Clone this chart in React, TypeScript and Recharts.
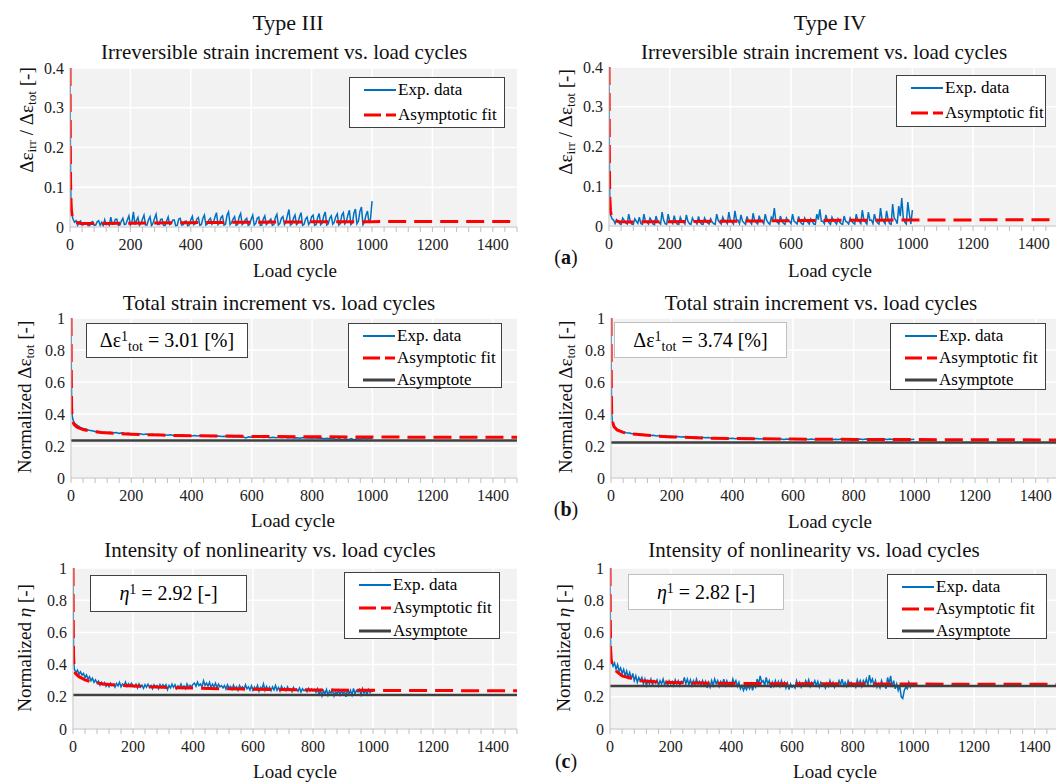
import React from "react";
import { LineChart, Line, XAxis, YAxis, CartesianGrid } from "recharts";

const FONT = "'Liberation Serif', 'Times New Roman', serif";

// load cycles of the measured series
const cycles5 = [0, 1, 2, 3, 4, ...Array.from({ length: 200 }, (_, i) => (i + 1) * 5)];
const cycles10 = [0, 1, 2, 3, 4, 6, 8, ...Array.from({ length: 100 }, (_, i) => (i + 1) * 10)];

// (a) irreversible / total strain increment (every 5th cycle)
const irrTypeIII = [
  0.4, 0.25, 0.12, 0.07, 0.05,
  0.035, 0.02, 0.012, 0.016, 0.004, 0.012, 0.015, 0.005, 0.006, 0.011, 0.01, 0.003, 0.003, 0.012, 0.014, 0.004, 0.005, 0.013, 0.016, 0.004,
  0.012, 0.003, 0.018, 0.006, 0.01, 0.004, 0.025, 0.007, 0.008, 0.019, 0.02, 0.004, 0.005, 0.015, 0.022, 0.006, 0.007, 0.018, 0.028, 0.005,
  0.012, 0.038, 0.006, 0.016, 0.024, 0.004, 0.009, 0.02, 0.03, 0.005, 0.005, 0.018, 0.026, 0.003, 0.01, 0.022, 0.032, 0.006, 0.006, 0.019,
  0.02, 0.004, 0.004, 0.015, 0.025, 0.006, 0.008, 0.017, 0.018, 0.003, 0.004, 0.02, 0.022, 0.005, 0.006, 0.014, 0.015, 0.003, 0.005, 0.018,
  0.027, 0.006, 0.009, 0.02, 0.024, 0.004, 0.006, 0.022, 0.03, 0.005, 0.008, 0.018, 0.022, 0.007, 0.012, 0.025, 0.036, 0.006, 0.01, 0.024,
  0.028, 0.005, 0.007, 0.03, 0.038, 0.006, 0.011, 0.02, 0.026, 0.004, 0.006, 0.025, 0.034, 0.006, 0.01, 0.018, 0.022, 0.004, 0.007, 0.02,
  0.03, 0.005, 0.009, 0.022, 0.025, 0.004, 0.005, 0.02, 0.028, 0.006, 0.01, 0.016, 0.02, 0.004, 0.006, 0.024, 0.032, 0.005, 0.009, 0.022,
  0.026, 0.006, 0.012, 0.03, 0.044, 0.005, 0.008, 0.022, 0.03, 0.006, 0.01, 0.026, 0.036, 0.004, 0.007, 0.02, 0.025, 0.006, 0.012, 0.026,
  0.03, 0.004, 0.006, 0.024, 0.034, 0.006, 0.01, 0.028, 0.038, 0.005, 0.008, 0.022, 0.028, 0.007, 0.012, 0.026, 0.033, 0.005, 0.009, 0.03,
  0.036, 0.008, 0.014, 0.03, 0.042, 0.006, 0.01, 0.035, 0.045, 0.008, 0.015, 0.04, 0.05, 0.006, 0.012, 0.03, 0.04, 0.01, 0.02, 0.065,
];
const irrTypeIV = [
  0.4, 0.22, 0.1, 0.06, 0.04,
  0.028, 0.018, 0.015, 0.006, 0.016, 0.012, 0.006, 0.004, 0.02, 0.014, 0.008, 0.005, 0.03, 0.012, 0.005, 0.004, 0.018, 0.012, 0.007, 0.022,
  0.006, 0.004, 0.03, 0.012, 0.01, 0.005, 0.02, 0.014, 0.005, 0.003, 0.025, 0.012, 0.009, 0.005, 0.035, 0.015, 0.006, 0.004, 0.03, 0.012,
  0.012, 0.006, 0.026, 0.011, 0.005, 0.004, 0.022, 0.013, 0.01, 0.005, 0.028, 0.012, 0.006, 0.004, 0.02, 0.012, 0.011, 0.005, 0.024, 0.01,
  0.005, 0.004, 0.02, 0.012, 0.008, 0.005, 0.018, 0.01, 0.006, 0.004, 0.03, 0.014, 0.009, 0.005, 0.022, 0.013, 0.012, 0.006, 0.035, 0.014,
  0.01, 0.005, 0.038, 0.016, 0.015, 0.006, 0.028, 0.012, 0.008, 0.004, 0.024, 0.012, 0.011, 0.005, 0.032, 0.014, 0.009, 0.005, 0.026, 0.012,
  0.012, 0.006, 0.03, 0.014, 0.008, 0.004, 0.022, 0.016, 0.045, 0.012, 0.01, 0.005, 0.025, 0.012, 0.007, 0.004, 0.02, 0.012, 0.012, 0.006,
  0.03, 0.012, 0.009, 0.005, 0.024, 0.011, 0.006, 0.004, 0.02, 0.012, 0.01, 0.005, 0.018, 0.011, 0.005, 0.004, 0.03, 0.016, 0.042, 0.012,
  0.012, 0.006, 0.028, 0.014, 0.008, 0.004, 0.022, 0.013, 0.01, 0.005, 0.018, 0.01, 0.006, 0.004, 0.025, 0.012, 0.01, 0.005, 0.02, 0.012,
  0.008, 0.005, 0.03, 0.014, 0.012, 0.006, 0.04, 0.016, 0.01, 0.005, 0.035, 0.014, 0.015, 0.006, 0.03, 0.014, 0.008, 0.005, 0.045, 0.016,
  0.012, 0.006, 0.038, 0.016, 0.006, 0.004, 0.055, 0.02, 0.015, 0.006, 0.05, 0.025, 0.07, 0.02, 0.01, 0.005, 0.06, 0.03, 0.005, 0.04,
];
const fitIrrCycles = [0, 1, 2, 3, 5, 8, 12, 20, 35, 60, 100, 200, 400, 600, 800, 1000, 1500];
const fitIrrTypeIII = [0.4, 0.2, 0.11, 0.07, 0.04, 0.025, 0.017, 0.012, 0.009, 0.0085, 0.009, 0.0095, 0.011, 0.012, 0.013, 0.0135, 0.014];
const fitIrrTypeIV = [0.4, 0.19, 0.1, 0.065, 0.038, 0.024, 0.017, 0.013, 0.011, 0.01, 0.0105, 0.011, 0.012, 0.0135, 0.0145, 0.015, 0.016];

// (b) normalized total strain increment (every 10th cycle)
const totTypeIII = [
  1.0, 0.7, 0.5, 0.42, 0.39, 0.37, 0.355,
  0.345, 0.33, 0.318, 0.31, 0.305, 0.298, 0.295, 0.291, 0.29, 0.287,
  0.285, 0.283, 0.286, 0.281, 0.284, 0.279, 0.282, 0.277, 0.279, 0.276,
  0.277, 0.274, 0.276, 0.272, 0.275, 0.271, 0.273, 0.27, 0.272, 0.269,
  0.271, 0.267, 0.27, 0.266, 0.268, 0.265, 0.268, 0.264, 0.266, 0.263,
  0.265, 0.262, 0.265, 0.261, 0.264, 0.26, 0.263, 0.259, 0.262, 0.259,
  0.261, 0.258, 0.26, 0.257, 0.259, 0.256, 0.258, 0.25, 0.257, 0.255,
  0.257, 0.254, 0.256, 0.253, 0.256, 0.252, 0.255, 0.252, 0.254, 0.251,
  0.254, 0.25, 0.253, 0.25, 0.252, 0.249, 0.253, 0.25, 0.252, 0.249,
  0.251, 0.248, 0.25, 0.246, 0.249, 0.245, 0.248, 0.24, 0.246, 0.238,
  0.245, 0.24, 0.247, 0.238, 0.246, 0.242, 0.248, 0.244, 0.249, 0.246,
];
const totTypeIV = [
  1.0, 0.6, 0.45, 0.39, 0.36, 0.34, 0.33,
  0.325, 0.305, 0.295, 0.288, 0.283, 0.281, 0.276, 0.277, 0.272, 0.273,
  0.269, 0.27, 0.266, 0.267, 0.263, 0.265, 0.262, 0.263, 0.26, 0.261,
  0.258, 0.26, 0.256, 0.258, 0.255, 0.257, 0.253, 0.256, 0.252, 0.254,
  0.252, 0.253, 0.25, 0.252, 0.249, 0.251, 0.248, 0.25, 0.247, 0.249,
  0.246, 0.249, 0.245, 0.248, 0.244, 0.247, 0.245, 0.247, 0.244, 0.246,
  0.243, 0.246, 0.242, 0.245, 0.243, 0.244, 0.241, 0.244, 0.242, 0.243,
  0.241, 0.244, 0.242, 0.243, 0.24, 0.243, 0.241, 0.242, 0.24, 0.243,
  0.241, 0.243, 0.24, 0.242, 0.241, 0.244, 0.24, 0.243, 0.241, 0.242,
  0.24, 0.243, 0.241, 0.244, 0.24, 0.242, 0.241, 0.244, 0.24, 0.243,
  0.241, 0.244, 0.24, 0.243, 0.241, 0.242, 0.24, 0.243, 0.241, 0.242,
];
const fitTotCycles = [0, 1, 2, 3, 5, 10, 20, 40, 70, 100, 150, 200, 300, 400, 500, 600, 800, 1000, 1200, 1500];
const fitTotTypeIII = [1, 0.6, 0.45, 0.4, 0.36, 0.335, 0.318, 0.303, 0.292, 0.285, 0.279, 0.274, 0.268, 0.264, 0.262, 0.26, 0.258, 0.256, 0.255, 0.254];
const fitTotTypeIV = [1, 0.55, 0.43, 0.38, 0.35, 0.32, 0.3, 0.285, 0.275, 0.27, 0.262, 0.257, 0.25, 0.247, 0.245, 0.243, 0.241, 0.24, 0.239, 0.238];
const asymTotTypeIII = 0.234;
const asymTotTypeIV = 0.222;

// (c) normalized intensity of nonlinearity (every 5th cycle)
const etaTypeIII = [
  1.0, 0.65, 0.48, 0.41, 0.38,
  0.37, 0.35, 0.365, 0.34, 0.355, 0.335, 0.345, 0.32, 0.335, 0.31, 0.325, 0.3, 0.315, 0.29, 0.305, 0.285, 0.298, 0.272, 0.29, 0.275,
  0.288, 0.265, 0.28, 0.262, 0.285, 0.27, 0.278, 0.26, 0.283, 0.268, 0.29, 0.262, 0.28, 0.27, 0.292, 0.265, 0.282, 0.268, 0.285, 0.27,
  0.262, 0.278, 0.255, 0.28, 0.26, 0.272, 0.252, 0.275, 0.26, 0.278, 0.258, 0.27, 0.25, 0.275, 0.262, 0.27, 0.25, 0.276, 0.258, 0.275,
  0.262, 0.275, 0.245, 0.27, 0.255, 0.278, 0.258, 0.275, 0.25, 0.268, 0.258, 0.28, 0.255, 0.268, 0.25, 0.28, 0.258, 0.272, 0.26, 0.278,
  0.285, 0.265, 0.292, 0.27, 0.28, 0.262, 0.3, 0.27, 0.285, 0.266, 0.29, 0.258, 0.278, 0.262, 0.285, 0.255, 0.278, 0.262, 0.27, 0.255,
  0.27, 0.248, 0.275, 0.255, 0.265, 0.245, 0.272, 0.25, 0.262, 0.24, 0.27, 0.252, 0.262, 0.245, 0.275, 0.25, 0.262, 0.242, 0.268, 0.24,
  0.26, 0.245, 0.27, 0.235, 0.258, 0.248, 0.28, 0.24, 0.265, 0.245, 0.26, 0.238, 0.262, 0.242, 0.27, 0.24, 0.258, 0.236, 0.265, 0.245,
  0.255, 0.238, 0.262, 0.242, 0.25, 0.232, 0.258, 0.24, 0.248, 0.235, 0.255, 0.23, 0.25, 0.238, 0.245, 0.232, 0.252, 0.235, 0.248, 0.236,
  0.245, 0.228, 0.25, 0.215, 0.24, 0.205, 0.238, 0.22, 0.245, 0.21, 0.236, 0.222, 0.242, 0.205, 0.232, 0.218, 0.24, 0.212, 0.238, 0.22,
  0.235, 0.2, 0.248, 0.215, 0.24, 0.21, 0.252, 0.22, 0.24, 0.23, 0.245, 0.212, 0.25, 0.222, 0.238, 0.215, 0.245, 0.225, 0.24, 0.23,
];
const etaTypeIV = [
  1.0, 0.7, 0.52, 0.46, 0.44,
  0.42, 0.39, 0.41, 0.37, 0.4, 0.36, 0.38, 0.345, 0.37, 0.33, 0.36, 0.32, 0.35, 0.31, 0.345, 0.3, 0.33, 0.29, 0.32, 0.3,
  0.32, 0.28, 0.31, 0.27, 0.3, 0.28, 0.31, 0.275, 0.3, 0.285, 0.305, 0.27, 0.3, 0.28, 0.31, 0.275, 0.295, 0.27, 0.3, 0.28,
  0.295, 0.27, 0.305, 0.28, 0.3, 0.27, 0.295, 0.285, 0.32, 0.28, 0.31, 0.275, 0.305, 0.27, 0.3, 0.275, 0.31, 0.28, 0.295, 0.27,
  0.3, 0.27, 0.295, 0.255, 0.29, 0.26, 0.3, 0.27, 0.31, 0.28, 0.3, 0.265, 0.295, 0.275, 0.31, 0.27, 0.3, 0.275, 0.29, 0.27,
  0.31, 0.28, 0.3, 0.265, 0.29, 0.25, 0.27, 0.24, 0.265, 0.245, 0.27, 0.25, 0.28, 0.24, 0.275, 0.26, 0.31, 0.28, 0.33, 0.29,
  0.3, 0.27, 0.32, 0.28, 0.3, 0.255, 0.29, 0.265, 0.3, 0.27, 0.295, 0.265, 0.3, 0.27, 0.29, 0.255, 0.285, 0.245, 0.28, 0.26,
  0.27, 0.255, 0.3, 0.27, 0.29, 0.26, 0.285, 0.27, 0.3, 0.275, 0.305, 0.265, 0.29, 0.275, 0.3, 0.27, 0.295, 0.26, 0.29, 0.275,
  0.28, 0.255, 0.285, 0.265, 0.3, 0.27, 0.29, 0.26, 0.285, 0.275, 0.3, 0.275, 0.31, 0.27, 0.29, 0.265, 0.3, 0.28, 0.29, 0.27,
  0.28, 0.26, 0.305, 0.275, 0.3, 0.265, 0.3, 0.28, 0.31, 0.27, 0.335, 0.29, 0.31, 0.27, 0.3, 0.26, 0.28, 0.255, 0.3, 0.27,
  0.275, 0.25, 0.32, 0.28, 0.33, 0.26, 0.3, 0.25, 0.28, 0.24, 0.27, 0.2, 0.19, 0.24, 0.26, 0.25, 0.29, 0.26, 0.28, 0.27,
];
const fitEtaCycles = [0, 1, 2, 4, 8, 20, 40, 70, 100, 150, 200, 300, 400, 500, 600, 800, 1000, 1500];
const fitEtaTypeIII = [1, 0.6, 0.45, 0.37, 0.345, 0.325, 0.305, 0.288, 0.28, 0.272, 0.267, 0.259, 0.254, 0.25, 0.247, 0.243, 0.24, 0.237];
const fitEtaTypeIV = [1, 0.65, 0.5, 0.43, 0.4, 0.36, 0.33, 0.315, 0.3, 0.293, 0.289, 0.285, 0.283, 0.282, 0.281, 0.28, 0.279, 0.277];
const asymEtaTypeIII = 0.211;
const asymEtaTypeIV = 0.267;

const X_MAX = 1480;
const minorTicks = Array.from({ length: 38 }, (_, i) => i * 40);
const majorTicks = [0, 200, 400, 600, 800, 1000, 1200, 1400];
const irrTicks = [0, 0.1, 0.2, 0.3, 0.4];
const normTicks = [0, 0.2, 0.4, 0.6, 0.8, 1];

const toPoints = (xs: number[], ys: number[]) => xs.map((x, i) => ({ x, y: ys[i] }));

type PanelProps = {
  left: number;
  top: number;
  plotW: number;
  plotH: number;
  yMax: number;
  yTicks: number[];
  expX: number[];
  exp: number[];
  fitX: number[];
  fitY: number[];
  asym?: number;
};

function Panel({ left, top, plotW, plotH, yMax, yTicks, expX, exp, fitX, fitY, asym }: PanelProps) {
  const YW = 45;
  const PT = 10;
  const XH = 32;
  const tickStyle = { fill: "#222", fontSize: 16, fontFamily: FONT };
  return (
    <div style={{ position: "absolute", left: left - YW, top: top - PT }}>
      <LineChart width={plotW + YW + 1} height={plotH + PT + XH} margin={{ top: PT, right: 1, bottom: 0, left: 0 }}>
        <CartesianGrid fill="#f2f2f2" stroke="#ffffff" strokeWidth={1.5} verticalValues={majorTicks} />
        <XAxis
          type="number"
          dataKey="x"
          domain={[0, X_MAX]}
          ticks={minorTicks}
          interval={0}
          allowDataOverflow
          height={XH}
          tickSize={5}
          tickMargin={7}
          stroke="#bfbfbf"
          tick={tickStyle}
          tickFormatter={(v: number) => (v % 200 === 0 ? String(v) : "")}
        />
        <YAxis
          type="number"
          domain={[0, yMax]}
          ticks={yTicks}
          allowDataOverflow
          width={YW}
          tickLine={false}
          tickSize={0}
          tickMargin={6}
          axisLine={{ stroke: "#bfbfbf" }}
          tick={tickStyle}
          tickFormatter={(v: number) => (v === 0 || v === 1 ? String(v) : v.toFixed(1))}
        />
        <Line data={toPoints(expX, exp)} dataKey="y" stroke="#0070c0" strokeWidth={1.5} dot={false} isAnimationActive={false} />
        <Line data={toPoints(fitX, fitY)} dataKey="y" stroke="#ff0000" strokeWidth={3} strokeDasharray="18 8" dot={false} isAnimationActive={false} />
        {asym !== undefined && (
          <Line data={[{ x: 0, y: asym }, { x: 1500, y: asym }]} dataKey="y" stroke="#404040" strokeWidth={2.5} dot={false} isAnimationActive={false} />
        )}
      </LineChart>
    </div>
  );
}

function Txt({ x, y, size, children, rotate }: { x: number; y: number; size: number; children: React.ReactNode; rotate?: boolean }) {
  return (
    <div
      style={{
        position: "absolute",
        left: x,
        top: y,
        transform: `translate(-50%, -50%)${rotate ? " rotate(-90deg)" : ""}`,
        fontFamily: FONT,
        fontSize: size,
        lineHeight: 1,
        whiteSpace: "nowrap",
        color: "#111",
      }}
    >
      {children}
    </div>
  );
}

const subStyle: React.CSSProperties = { fontSize: "0.7em", verticalAlign: "-0.25em", lineHeight: 0 };
const supStyle: React.CSSProperties = { fontSize: "0.7em", verticalAlign: "0.45em", lineHeight: 0 };

function LegendBox({ left, top, width, height, rows, gap }: { left: number; top: number; width: number; height: number; rows: string[]; gap: number }) {
  const labels: Record<string, string> = { exp: "Exp. data", fit: "Asymptotic fit", asym: "Asymptote" };
  return (
    <div style={{ position: "absolute", left, top, width, height, boxSizing: "border-box", border: "1px solid #404040", background: "#fff" }}>
      {rows.map((r, i) => (
        <div key={r} style={{ position: "absolute", left: 0, top: 12 + i * gap, display: "flex", alignItems: "center", height: 0 }}>
          <svg width={48} height={6} style={{ display: "block" }}>
            {r === "exp" && <line x1={14} x2={46} y1={3} y2={3} stroke="#0070c0" strokeWidth={2} />}
            {r === "fit" && <line x1={14} x2={46} y1={3} y2={3} stroke="#ff0000" strokeWidth={3} strokeDasharray="17 5" />}
            {r === "asym" && <line x1={14} x2={46} y1={3} y2={3} stroke="#404040" strokeWidth={3} />}
          </svg>
          <span style={{ fontFamily: FONT, fontSize: 17, whiteSpace: "nowrap" }}>{labels[r]}</span>
        </div>
      ))}
    </div>
  );
}

function NoteBox({ left, top, width, height, border, children }: { left: number; top: number; width: number; height: number; border: string; children: React.ReactNode }) {
  return (
    <div
      style={{
        position: "absolute",
        left,
        top,
        width,
        height,
        boxSizing: "border-box",
        border: `1px solid ${border}`,
        background: "#fff",
        display: "flex",
        alignItems: "center",
        justifyContent: "center",
        fontFamily: FONT,
        fontSize: 20,
        whiteSpace: "nowrap",
      }}
    >
      <span>{children}</span>
    </div>
  );
}

const irrLabel = (
  <span>
    Δε<span style={subStyle}>irr</span> / Δε<span style={subStyle}>tot</span> [-]
  </span>
);
const totLabel = (
  <span>
    Normalized Δε<span style={subStyle}>tot</span> [-]
  </span>
);
const etaLabel = (
  <span>
    Normalized <i>η</i> [-]
  </span>
);

export default function App() {
  return (
    <div style={{ position: "fixed", left: 0, top: 0, width: 1056, height: 782, background: "#fff", overflow: "hidden" }}>
      <Txt x={288} y={23} size={22}>Type III</Txt>
      <Txt x={830} y={23} size={22}>Type IV</Txt>

      {/* (a) */}
      <Txt x={284} y={52} size={21}>Irreversible strain increment vs. load cycles</Txt>
      <Txt x={824} y={52} size={21}>Irreversible strain increment vs. load cycles</Txt>
      <Panel left={70} top={68} plotW={447} plotH={159} yMax={0.4} yTicks={irrTicks} expX={cycles5} exp={irrTypeIII} fitX={fitIrrCycles} fitY={fitIrrTypeIII} />
      <Panel left={609} top={67} plotW={449} plotH={159} yMax={0.4} yTicks={irrTicks} expX={cycles5} exp={irrTypeIV} fitX={fitIrrCycles} fitY={fitIrrTypeIV} />
      <Txt x={26} y={120} size={19} rotate>{irrLabel}</Txt>
      <Txt x={565} y={122} size={19} rotate>{irrLabel}</Txt>
      <Txt x={295} y={270} size={19}>Load cycle</Txt>
      <Txt x={830} y={270} size={19}>Load cycle</Txt>
      <LegendBox left={349} top={77} width={156} height={51} rows={["exp", "fit"]} gap={25} />
      <LegendBox left={896} top={75} width={150} height={52} rows={["exp", "fit"]} gap={25} />

      {/* (b) */}
      <Txt x={279} y={303} size={21}>Total strain increment vs. load cycles</Txt>
      <Txt x={821} y={303} size={21}>Total strain increment vs. load cycles</Txt>
      <Panel left={71} top={318} plotW={446} plotH={160} yMax={1} yTicks={normTicks} expX={cycles10} exp={totTypeIII} fitX={fitTotCycles} fitY={fitTotTypeIII} asym={asymTotTypeIII} />
      <Panel left={611} top={318} plotW={449} plotH={160} yMax={1} yTicks={normTicks} expX={cycles10} exp={totTypeIV} fitX={fitTotCycles} fitY={fitTotTypeIV} asym={asymTotTypeIV} />
      <Txt x={24} y={397} size={19} rotate>{totLabel}</Txt>
      <Txt x={565} y={397} size={19} rotate>{totLabel}</Txt>
      <Txt x={293} y={520} size={19}>Load cycle</Txt>
      <Txt x={830} y={521} size={19}>Load cycle</Txt>
      <NoteBox left={86} top={323} width={162} height={35} border="#404040">
        Δε<span style={supStyle}>1</span><span style={subStyle}>tot</span> = 3.01 [%]
      </NoteBox>
      <NoteBox left={614} top={322} width={173} height={36} border="#bfbfbf">
        Δε<span style={supStyle}>1</span><span style={subStyle}>tot</span> = 3.74 [%]
      </NoteBox>
      <LegendBox left={348} top={323} width={154} height={65} rows={["exp", "fit", "asym"]} gap={22} />
      <LegendBox left={890} top={323} width={156} height={67} rows={["exp", "fit", "asym"]} gap={22} />

      {/* (c) */}
      <Txt x={270} y={550} size={21}>Intensity of nonlinearity vs. load cycles</Txt>
      <Txt x={814} y={550} size={21}>Intensity of nonlinearity vs. load cycles</Txt>
      <Panel left={73} top={568} plotW={444} plotH={161} yMax={1} yTicks={normTicks} expX={cycles5} exp={etaTypeIII} fitX={fitEtaCycles} fitY={fitEtaTypeIII} asym={asymEtaTypeIII} />
      <Panel left={610} top={568} plotW={449} plotH={161} yMax={1} yTicks={normTicks} expX={cycles5} exp={etaTypeIV} fitX={fitEtaCycles} fitY={fitEtaTypeIV} asym={asymEtaTypeIV} />
      <Txt x={24} y={648} size={19} rotate>{etaLabel}</Txt>
      <Txt x={563} y={648} size={19} rotate>{etaLabel}</Txt>
      <Txt x={295} y={771} size={19}>Load cycle</Txt>
      <Txt x={835} y={771} size={19}>Load cycle</Txt>
      <NoteBox left={90} top={575} width={157} height={37} border="#404040">
        <i>η</i><span style={supStyle}>1</span> = 2.92 [-]
      </NoteBox>
      <NoteBox left={628} top={574} width={156} height={36} border="#bfbfbf">
        <i>η</i><span style={supStyle}>1</span> = 2.82 [-]
      </NoteBox>
      <LegendBox left={344} top={572} width={156} height={67} rows={["exp", "fit", "asym"]} gap={23} />
      <LegendBox left={887} top={574} width={160} height={65} rows={["exp", "fit", "asym"]} gap={22} />

      {/* panel letters */}
      <Txt x={566} y={257} size={20}>(<b>a</b>)</Txt>
      <Txt x={566} y={509} size={20}>(<b>b</b>)</Txt>
      <Txt x={566} y={761} size={20}>(<b>c</b>)</Txt>
    </div>
  );
}
